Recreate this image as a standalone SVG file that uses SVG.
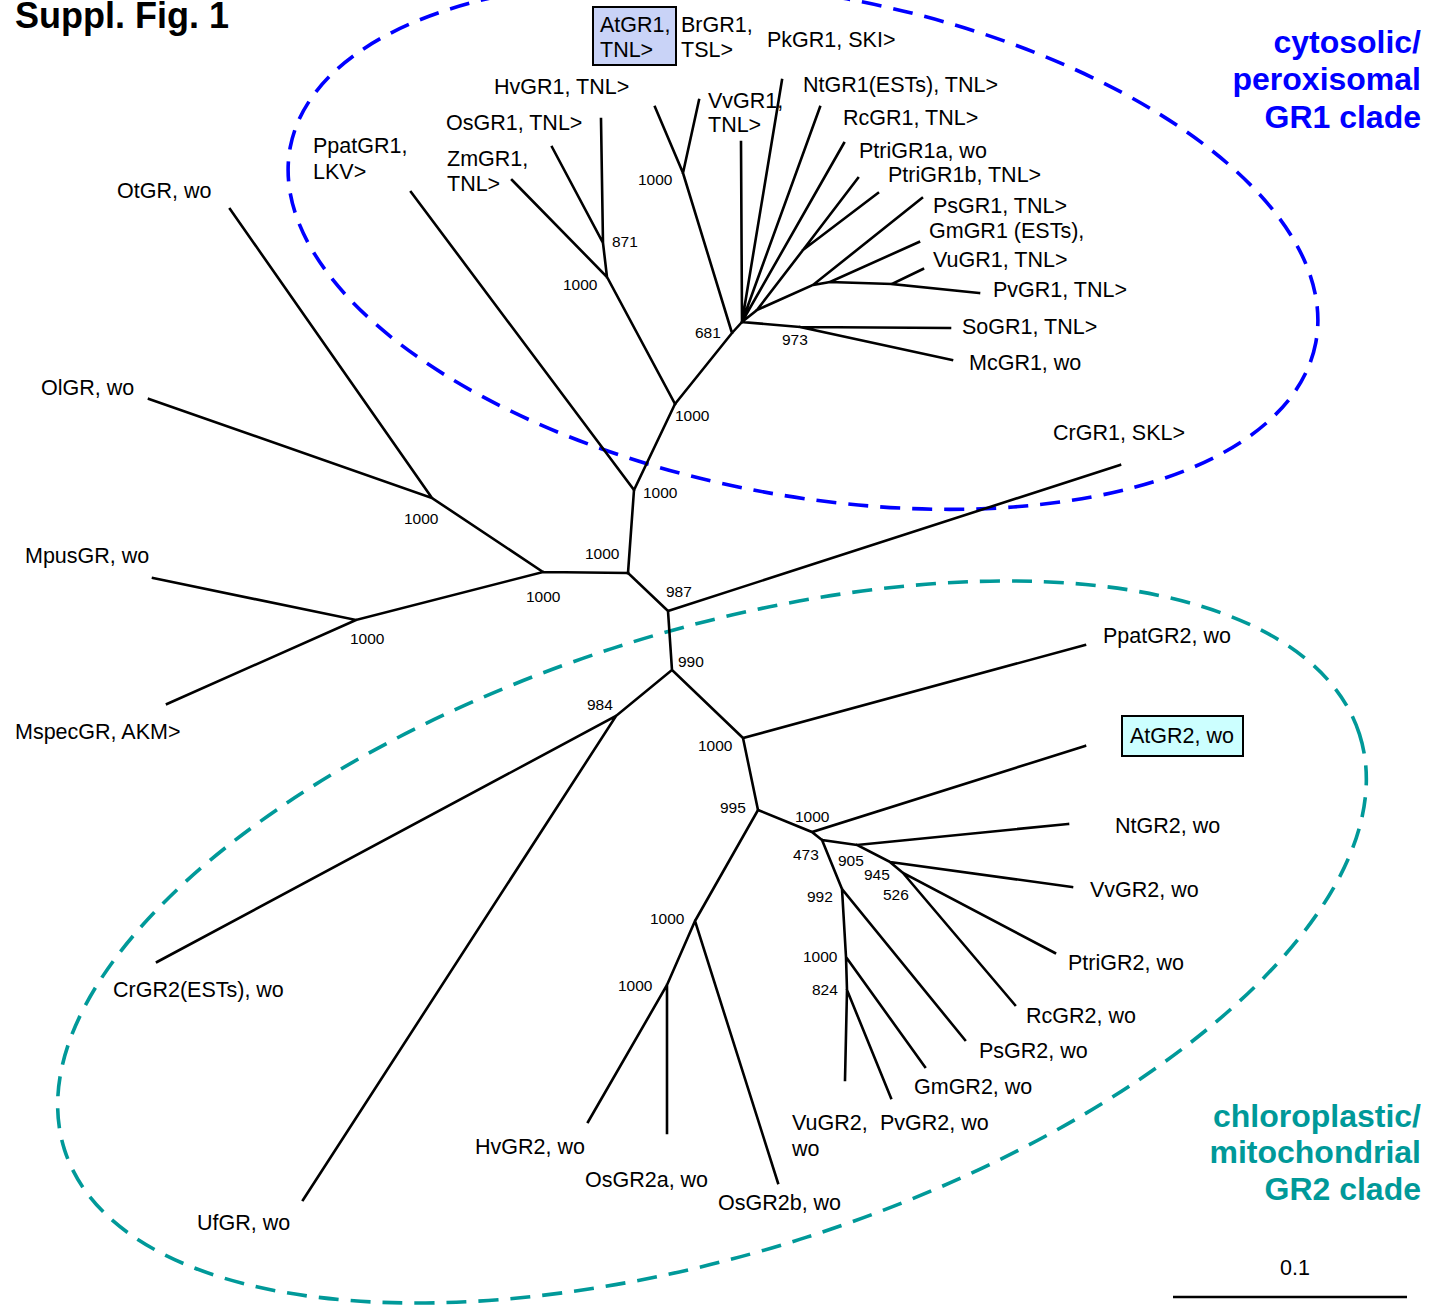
<svg xmlns="http://www.w3.org/2000/svg" width="1432" height="1311" viewBox="0 0 1432 1311">
<style>
text{font-family:"Liberation Sans",Arial,sans-serif;fill:#000}
.lf{font-size:21.5px}
.bs{font-size:15.5px}
.br{stroke:#000;stroke-width:2.6;fill:none;stroke-linecap:square;stroke-linejoin:miter}
.cl{font-size:32px;font-weight:bold;text-anchor:end}
</style>
<rect width="1432" height="1311" fill="#fff"/>
<g id="clades">
<ellipse cx="803" cy="245" rx="522" ry="250" transform="rotate(10.8 803 245)" fill="none" stroke="#0000ff" stroke-width="3.6" stroke-dasharray="20 12"/>
<ellipse cx="712" cy="942" rx="680" ry="310" transform="rotate(-17.8 712 942)" fill="none" stroke="#009999" stroke-width="3.6" stroke-dasharray="20 12"/>
</g>
<g id="connectors" class="br">
<path d="M628,573 L634,490 M634,490 L411,192 M634,490 L675,404 M675,404 L607,277 L512,180 M607,277 L603,243 L552,147 M603,243 L601,119"/>
<path d="M675,404 L732,333 L742,322 M732,333 L683,173 L655,107 M683,173 L699,100"/>
<path d="M742,322 L741,142 M742,322 L782,80 M742,322 L820,107 M742,322 L844,143 M742,322 L757,310 L803,250 L858,178 M803,250 L878,193 M757,310 L813,285 L922,198 M813,285 L830,282 L919,242 M830,282 L892,284 L923,269 M892,284 L979,293 M742,322 L800,327 L950,328 M800,327 L952,360"/>
<path d="M628,573 L543,572 L432,498 L230,209 M432,498 L149,399 M543,572 L356,620 L153,578 M356,620 L167,704"/>
<path d="M628,573 L668,611 L1120,465 M668,611 L672,670 L616,716 L157,962 M616,716 L303,1200 M672,670 L743,738 L1085,645 M743,738 L758,810 L812,832 L1085,746 M812,832 L822,840 L857,845 L1068,824 M857,845 L890,862 L1072,887 M890,862 L903,873 L1055,953 M903,873 L1015,1005 M822,840 L842,889 L965,1040 M842,889 L846,957 L925,1067 M846,957 L847,990 L845,1080 M847,990 L891,1098"/>
<path d="M758,810 L695,921 L778,1183 M695,921 L667,985 L588,1122 M667,985 L667,1133"/>
</g>
<g id="bootstrap" class="bs">
<text x="612" y="247">871</text>
<text x="563" y="290">1000</text>
<text x="638" y="185">1000</text>
<text x="695" y="338">681</text>
<text x="782" y="345">973</text>
<text x="675" y="421">1000</text>
<text x="643" y="498">1000</text>
<text x="585" y="559">1000</text>
<text x="666" y="597">987</text>
<text x="678" y="667">990</text>
<text x="526" y="602">1000</text>
<text x="404" y="524">1000</text>
<text x="350" y="644">1000</text>
<text x="587" y="710">984</text>
<text x="698" y="751">1000</text>
<text x="720" y="813">995</text>
<text x="795" y="822">1000</text>
<text x="793" y="860">473</text>
<text x="838" y="866">905</text>
<text x="864" y="880">945</text>
<text x="883" y="900">526</text>
<text x="807" y="902">992</text>
<text x="803" y="962">1000</text>
<text x="812" y="995">824</text>
<text x="650" y="924">1000</text>
<text x="618" y="991">1000</text>
</g>
<g id="n-AtGR1"><rect x="593" y="7" width="83" height="58" fill="#c9d3f7" stroke="#000" stroke-width="2"/><text class="lf" x="600" y="32">AtGR1,</text><text class="lf" x="600" y="57">TNL&gt;</text></g>
<g id="n-BrGR1"><text class="lf" x="681" y="32">BrGR1,</text><text class="lf" x="681" y="57">TSL&gt;</text></g>
<g id="n-PkGR1"><text class="lf" x="767" y="47">PkGR1, SKI&gt;</text></g>
<g id="n-HvGR1"><text class="lf" x="494" y="94">HvGR1, TNL&gt;</text></g>
<g id="n-OsGR1"><text class="lf" x="446" y="130">OsGR1, TNL&gt;</text></g>
<g id="n-ZmGR1"><text class="lf" x="447" y="166">ZmGR1,</text><text class="lf" x="447" y="191">TNL&gt;</text></g>
<g id="n-PpatGR1"><text class="lf" x="313" y="153">PpatGR1,</text><text class="lf" x="313" y="179">LKV&gt;</text></g>
<g id="n-VvGR1"><text class="lf" x="708" y="108">VvGR1,</text><text class="lf" x="708" y="132">TNL&gt;</text></g>
<g id="n-NtGR1"><text class="lf" x="803" y="92">NtGR1(ESTs), TNL&gt;</text></g>
<g id="n-RcGR1"><text class="lf" x="843" y="125">RcGR1, TNL&gt;</text></g>
<g id="n-PtriGR1a"><text class="lf" x="859" y="158">PtriGR1a, wo</text></g>
<g id="n-PtriGR1b"><text class="lf" x="888" y="182">PtriGR1b, TNL&gt;</text></g>
<g id="n-PsGR1"><text class="lf" x="933" y="213">PsGR1, TNL&gt;</text></g>
<g id="n-GmGR1"><text class="lf" x="929" y="238">GmGR1 (ESTs),</text></g>
<g id="n-VuGR1"><text class="lf" x="933" y="267">VuGR1, TNL&gt;</text></g>
<g id="n-PvGR1"><text class="lf" x="993" y="297">PvGR1, TNL&gt;</text></g>
<g id="n-SoGR1"><text class="lf" x="962" y="334">SoGR1, TNL&gt;</text></g>
<g id="n-McGR1"><text class="lf" x="969" y="370">McGR1, wo</text></g>
<g id="n-OtGR"><text class="lf" x="117" y="198">OtGR, wo</text></g>
<g id="n-OlGR"><text class="lf" x="41" y="395">OlGR, wo</text></g>
<g id="n-MpusGR"><text class="lf" x="25" y="563">MpusGR, wo</text></g>
<g id="n-MspecGR"><text class="lf" x="15" y="739">MspecGR, AKM&gt;</text></g>
<g id="n-CrGR1"><text class="lf" x="1053" y="440">CrGR1, SKL&gt;</text></g>
<g id="n-PpatGR2"><text class="lf" x="1103" y="643">PpatGR2, wo</text></g>
<g id="n-AtGR2"><rect x="1122" y="716" width="121" height="40" fill="#ccffff" stroke="#000" stroke-width="2"/><text class="lf" x="1130" y="743">AtGR2, wo</text></g>
<g id="n-NtGR2"><text class="lf" x="1115" y="833">NtGR2, wo</text></g>
<g id="n-VvGR2"><text class="lf" x="1090" y="897">VvGR2, wo</text></g>
<g id="n-PtriGR2"><text class="lf" x="1068" y="970">PtriGR2, wo</text></g>
<g id="n-RcGR2"><text class="lf" x="1026" y="1023">RcGR2, wo</text></g>
<g id="n-PsGR2"><text class="lf" x="979" y="1058">PsGR2, wo</text></g>
<g id="n-GmGR2"><text class="lf" x="914" y="1094">GmGR2, wo</text></g>
<g id="n-PvGR2"><text class="lf" x="880" y="1130">PvGR2, wo</text></g>
<g id="n-VuGR2"><text class="lf" x="792" y="1130">VuGR2,</text><text class="lf" x="792" y="1156">wo</text></g>
<g id="n-OsGR2b"><text class="lf" x="718" y="1210">OsGR2b, wo</text></g>
<g id="n-OsGR2a"><text class="lf" x="585" y="1187">OsGR2a, wo</text></g>
<g id="n-HvGR2"><text class="lf" x="475" y="1154">HvGR2, wo</text></g>
<g id="n-UfGR"><text class="lf" x="197" y="1230">UfGR, wo</text></g>
<g id="n-CrGR2"><text class="lf" x="113" y="997">CrGR2(ESTs), wo</text></g>
<g id="title"><text x="15" y="28" font-size="36" font-weight="bold">Suppl. Fig. 1</text></g>
<g id="label-GR1">
<text class="cl" x="1421" y="53" style="fill:#0000ff">cytosolic/</text>
<text class="cl" x="1421" y="90" style="fill:#0000ff">peroxisomal</text>
<text class="cl" x="1421" y="128" style="fill:#0000ff">GR1 clade</text>
</g>
<g id="label-GR2">
<text class="cl" x="1421" y="1127" style="fill:#009999">chloroplastic/</text>
<text class="cl" x="1421" y="1163" style="fill:#009999">mitochondrial</text>
<text class="cl" x="1421" y="1200" style="fill:#009999">GR2 clade</text>
</g>
<g id="scale">
<text class="lf" x="1295" y="1275" text-anchor="middle">0.1</text>
<line x1="1173" y1="1297" x2="1407" y2="1297" stroke="#000" stroke-width="2.6"/>
</g>
</svg>
